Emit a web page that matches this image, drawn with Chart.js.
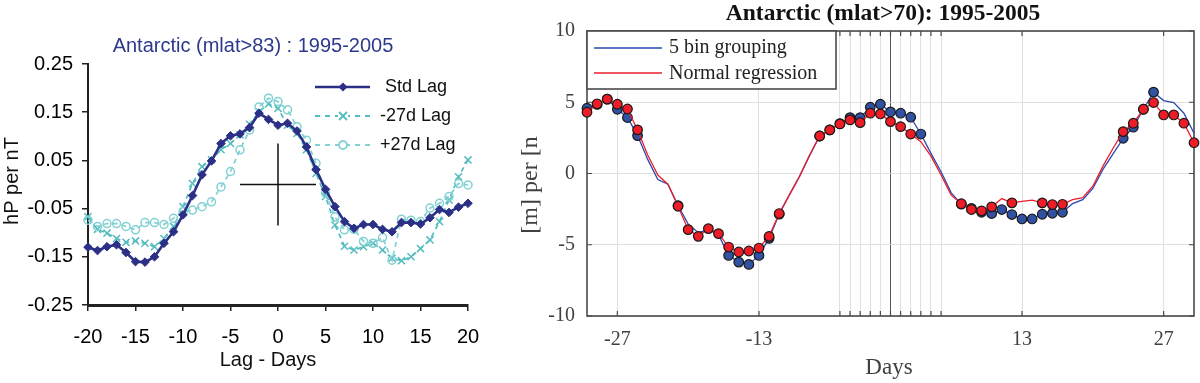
<!DOCTYPE html>
<html><head><meta charset="utf-8">
<script src="https://cdn.jsdelivr.net/npm/chart.js@4.4.0/dist/chart.umd.min.js"></script>
<style>
html,body{margin:0;padding:0;background:#fff;width:1200px;height:383px;overflow:hidden}
#c1{position:absolute;left:0;top:0}
#c2{position:absolute;left:520px;top:0}
</style></head><body>
<canvas id="c1" width="520" height="383"></canvas>
<canvas id="c2" width="680" height="383"></canvas>
<script>
// ---------- LEFT CHART DATA ----------
const leftTitle = 'Antarctic (mlat>83) : 1995-2005';
const leftXTitle = 'Lag - Days';
const leftYTitle = 'hP per nT';
const lagDays = [-20,-19,-18,-17,-16,-15,-14,-13,-12,-11,-10,-9,-8,-7,-6,-5,-4,-3,-2,-1,0,1,2,3,4,5,6,7,8,9,10,11,12,13,14,15,16,17,18,19,20];
const stdLag = [-0.130,-0.137,-0.129,-0.125,-0.141,-0.160,-0.161,-0.150,-0.122,-0.098,-0.063,-0.023,0.020,0.049,0.085,0.101,0.105,0.118,0.148,0.135,0.123,0.127,0.111,0.078,0.031,-0.010,-0.046,-0.077,-0.091,-0.083,-0.083,-0.093,-0.098,-0.079,-0.079,-0.082,-0.069,-0.052,-0.058,-0.047,-0.039];
const minus27Lag = [-0.067,-0.093,-0.101,-0.112,-0.120,-0.117,-0.122,-0.129,-0.112,-0.087,-0.046,0.002,0.037,0.051,0.072,0.085,0.103,0.125,0.151,0.167,0.158,0.123,0.106,0.072,0.023,-0.025,-0.084,-0.128,-0.136,-0.129,-0.122,-0.136,-0.153,-0.158,-0.150,-0.133,-0.115,-0.077,-0.032,0.016,0.051];
const plus27Lag = [-0.074,-0.087,-0.081,-0.081,-0.087,-0.094,-0.079,-0.079,-0.083,-0.070,-0.056,-0.053,-0.046,-0.036,-0.005,0.027,0.072,0.113,0.161,0.179,0.172,0.155,0.120,0.092,0.044,-0.018,-0.067,-0.094,-0.093,-0.118,-0.122,-0.110,-0.157,-0.072,-0.074,-0.077,-0.049,-0.039,-0.025,0.002,-0.001];
const crossHX = [-4, 4];
const crossVY = [0.085, -0.085];
const leftYTickValues = [-0.25,-0.15,-0.05,0.05,0.15,0.25];
const leftXTickValues = [-20,-15,-10,-5,0,5,10,15,20];
const leftLegend = ['Std Lag','-27d Lag','+27d Lag'];

// ---------- RIGHT CHART DATA ----------
const rightTitle = 'Antarctic (mlat>70): 1995-2005';
const rightXTitle = 'Days';
const rightYTitle = '[m] per [n';
const rightDays = [-30,-29,-28,-27,-26,-25,-24,-23,-22,-21,-20,-19,-18,-17,-16,-15,-14,-13,-12,-11,-10,-9,-8,-7,-6,-5,-4,-3,-2,-1,0,1,2,3,4,5,6,7,8,9,10,11,12,13,14,15,16,17,18,19,20,21,22,23,24,25,26,27,28,29,30];
const binGrouping = [4.58,4.85,5.22,4.51,3.93,2.66,0.99,-0.42,-0.75,-2.25,-3.55,-4.15,-3.95,-4.30,-5.75,-6.22,-6.38,-5.75,-4.55,-2.85,-1.50,-0.20,1.25,2.63,3.06,3.50,3.92,3.92,4.65,4.86,4.32,4.23,3.95,2.77,1.41,0.12,-1.36,-2.15,-2.45,-2.72,-2.81,-2.53,-2.88,-3.19,-3.19,-2.86,-2.79,-2.72,-2.11,-1.83,-1.05,0.29,1.37,2.47,3.25,4.51,5.71,5.12,4.98,4.23,2.82];
const normalRegression = [4.30,4.89,5.22,4.86,4.53,3.06,1.30,-0.11,-0.75,-2.30,-3.94,-4.41,-3.87,-4.22,-5.16,-5.51,-5.44,-5.23,-4.41,-2.81,-1.52,-0.23,1.30,2.63,3.06,3.48,3.76,3.57,4.23,4.18,3.64,3.29,2.77,2.23,1.22,-0.11,-1.52,-2.12,-2.53,-2.62,-2.34,-1.76,-2.06,-1.95,-1.87,-2.06,-2.18,-2.16,-1.83,-1.69,-0.89,0.52,1.77,2.94,3.53,4.51,4.98,4.11,4.11,3.53,2.16];
const binMarkerDays = [-30,-29,-28,-27,-26,-25,-21,-16,-15,-14,-13,-12,-11,-7,-6,-5,-4,-3,-2,-1,0,1,2,3,7,8,9,10,11,12,13,14,15,16,17,23,24,25,26];
const regMarkerDays = [-30,-29,-28,-27,-26,-25,-21,-20,-19,-18,-17,-16,-15,-14,-13,-12,-11,-7,-6,-5,-4,-3,-2,-1,0,1,2,7,8,9,10,12,15,16,17,23,24,25,26,27,28,29,30];
const rightXTickValues = [-27,-13,-5,-4,-3,-2,-1,0,1,2,3,4,5,13,27];
const rightXTickLabels = [-27,-13,13,27];
const rightYTickValues = [-10,-5,0,5,10];
const rightLegend = ['5 bin grouping','Normal regression'];

const pts = (xs, ys) => xs.map((x, i) => ({x: x, y: ys[i]}));

const SANS = '"Liberation Sans", Arial, sans-serif';
const SERIF = '"Liberation Serif", "Times New Roman", serif';

// ---------- LEFT CHART ----------
const navy = '#2b2f86';
const cyan1 = '#55bcc0';
const cyan2 = '#82d2d4';

const leftDecor = {
  id: 'leftDecor',
  afterDraw(chart) {
    const ctx = chart.ctx;
    ctx.save();
    ctx.textAlign = 'center';
    ctx.textBaseline = 'middle';
    ctx.font = '20px ' + SANS;
    ctx.fillStyle = '#2d3a8c';
    ctx.fillText(leftTitle, 253, 46);
    ctx.fillStyle = '#111';
    ctx.fillText(leftXTitle, 268, 360);
    ctx.save();
    ctx.translate(12, 181);
    ctx.rotate(-Math.PI / 2);
    ctx.fillText(leftYTitle, 0, 0);
    ctx.restore();
    // legend
    const ys = [87, 116, 145];
    const x0 = 315, x1 = 370, xm = 343;
    ctx.font = '18px ' + SANS;
    ctx.textAlign = 'left';
    // Std Lag
    ctx.strokeStyle = navy; ctx.lineWidth = 2.5; ctx.setLineDash([]);
    ctx.beginPath(); ctx.moveTo(x0, ys[0]); ctx.lineTo(x1, ys[0]); ctx.stroke();
    ctx.fillStyle = navy;
    ctx.beginPath(); ctx.moveTo(xm, ys[0]-4.5); ctx.lineTo(xm+4.5, ys[0]); ctx.lineTo(xm, ys[0]+4.5); ctx.lineTo(xm-4.5, ys[0]); ctx.closePath(); ctx.fill();
    // -27d
    ctx.strokeStyle = cyan1; ctx.lineWidth = 1.8; ctx.setLineDash([5, 5]);
    ctx.beginPath(); ctx.moveTo(x0, ys[1]); ctx.lineTo(x1, ys[1]); ctx.stroke();
    ctx.setLineDash([]);
    ctx.fillStyle = '#fff'; ctx.fillRect(xm-5, ys[1]-5, 10, 10);
    ctx.beginPath(); ctx.moveTo(xm-4, ys[1]-4); ctx.lineTo(xm+4, ys[1]+4); ctx.moveTo(xm+4, ys[1]-4); ctx.lineTo(xm-4, ys[1]+4); ctx.stroke();
    // +27d
    ctx.strokeStyle = cyan2; ctx.setLineDash([5, 5]);
    ctx.beginPath(); ctx.moveTo(x0, ys[2]); ctx.lineTo(x1, ys[2]); ctx.stroke();
    ctx.setLineDash([]);
    ctx.fillStyle = '#fff';
    ctx.beginPath(); ctx.arc(xm, ys[2], 4, 0, Math.PI*2); ctx.fill(); ctx.stroke();
    ctx.fillStyle = '#111';
    ctx.fillText(leftLegend[0], 385, ys[0]);
    ctx.fillText(leftLegend[1], 380, ys[1]);
    ctx.fillText(leftLegend[2], 380, ys[2]);
    ctx.restore();
  }
};

new Chart(document.getElementById('c1'), {
  type: 'line',
  data: {
    datasets: [
      {label: leftLegend[0], data: pts(lagDays, stdLag), borderColor: navy, backgroundColor: navy, borderWidth: 2.6,
       pointStyle: 'rectRot', pointRadius: 4.3, pointBorderWidth: 1, pointBorderColor: navy, pointBackgroundColor: navy, tension: 0, order: 1, clip: false},
      {label: leftLegend[1], data: pts(lagDays, minus27Lag), borderColor: cyan1, borderWidth: 1.7, borderDash: [5, 4],
       pointStyle: 'crossRot', pointRadius: 5, pointBorderWidth: 1.5, pointBorderColor: cyan1, tension: 0, order: 3, clip: false},
      {label: leftLegend[2], data: pts(lagDays, plus27Lag), borderColor: cyan2, borderWidth: 1.7, borderDash: [5, 4],
       pointStyle: 'circle', pointRadius: 4, pointBorderWidth: 1.5, pointBorderColor: cyan2, pointBackgroundColor: 'rgba(255,255,255,0)', tension: 0, order: 2, clip: false},
      {label: 'crossH', data: crossHX.map(x => ({x: x, y: 0})), borderColor: '#111', borderWidth: 1.5, pointRadius: 0, order: 0},
      {label: 'crossV', data: crossVY.map(y => ({x: 0, y: y})), borderColor: '#111', borderWidth: 1.5, pointRadius: 0, order: 0}
    ]
  },
  options: {
    responsive: false, animation: false, events: [],
    layout: {padding: {left: 0, top: 64, right: 52, bottom: 0}},
    plugins: {legend: {display: false}, tooltip: {enabled: false}, title: {display: false}},
    scales: {
      x: {
        type: 'linear', min: -20, max: 20,
        afterBuildTicks: s => { s.ticks = leftXTickValues.map(v => ({value: v})); },
        ticks: {font: {family: SANS, size: 20}, color: '#000', padding: 14, maxRotation: 0, autoSkip: false},
        grid: {drawOnChartArea: false, drawTicks: true, tickLength: 6, color: '#222', lineWidth: 1.5},
        border: {color: '#222', width: 3},
        afterFit: s => { s.height = 78; }
      },
      y: {
        type: 'linear', min: -0.25, max: 0.25,
        afterBuildTicks: s => { s.ticks = leftYTickValues.map(v => ({value: v})); },
        ticks: {font: {family: SANS, size: 20}, color: '#000', padding: 9, callback: v => Number(v).toFixed(2)},
        grid: {drawOnChartArea: false, drawTicks: true, tickLength: 6, color: '#222', lineWidth: 1.5},
        border: {color: '#222', width: 2},
        afterFit: s => { s.width = 88; }
      }
    }
  },
  plugins: [leftDecor]
});

// ---------- RIGHT CHART ----------
const blueLine = '#2a48b0';
const blueFill = '#3151a3';
const redLine = '#ec1f2b';
const redFill = '#ee1c26';
const frame = '#4a4a4a';

const rightBox = {
  id: 'rightBox',
  beforeDatasetsDraw(chart) {
    const {ctx, chartArea: a, scales} = chart;
    ctx.save();
    ctx.strokeStyle = frame; ctx.lineWidth = 1.6;
    ctx.strokeRect(a.left, a.top, a.right - a.left, a.bottom - a.top);
    ctx.lineWidth = 1.2;
    ctx.beginPath();
    rightXTickValues.forEach(v => {
      const x = scales.x.getPixelForValue(v);
      ctx.moveTo(x, a.bottom); ctx.lineTo(x, a.bottom - 5);
      ctx.moveTo(x, a.top); ctx.lineTo(x, a.top + 5);
    });
    rightYTickValues.forEach(v => {
      const y = scales.y.getPixelForValue(v);
      ctx.moveTo(a.left, y); ctx.lineTo(a.left + 5, y);
      ctx.moveTo(a.right, y); ctx.lineTo(a.right - 5, y);
    });
    ctx.stroke();
    ctx.restore();
  },
  afterDatasetsDraw(chart) {
    const {ctx, chartArea: a} = chart;
    ctx.save();
    const lx = a.left, ly = a.top, lw = 249, lh = 58;
    ctx.fillStyle = '#fff';
    ctx.fillRect(lx, ly, lw, lh);
    ctx.strokeStyle = frame; ctx.lineWidth = 1.6;
    ctx.strokeRect(lx, ly, lw, lh);
    ctx.lineWidth = 1.5;
    ctx.strokeStyle = blueLine;
    ctx.beginPath(); ctx.moveTo(lx + 7, 48); ctx.lineTo(lx + 75, 48); ctx.stroke();
    ctx.strokeStyle = redLine;
    ctx.beginPath(); ctx.moveTo(lx + 7, 73); ctx.lineTo(lx + 75, 73); ctx.stroke();
    ctx.fillStyle = '#222';
    ctx.font = '20px ' + SERIF;
    ctx.textAlign = 'left'; ctx.textBaseline = 'middle';
    ctx.fillText(rightLegend[0], lx + 82, 48);
    ctx.fillText(rightLegend[1], lx + 82, 74);
    ctx.restore();
  },
  afterDraw(chart) {
    const ctx = chart.ctx;
    ctx.save();
    ctx.textAlign = 'center'; ctx.textBaseline = 'middle';
    ctx.fillStyle = '#111';
    ctx.font = 'bold 23.5px ' + SERIF;
    ctx.fillText(rightTitle, 363, 14);
    ctx.fillStyle = '#404040';
    ctx.font = '23px ' + SERIF;
    ctx.fillText(rightXTitle, 369, 368);
    ctx.font = '24px ' + SERIF;
    ctx.save();
    ctx.translate(11, 185);
    ctx.rotate(-Math.PI / 2);
    ctx.fillText(rightYTitle, 0, 0);
    ctx.restore();
    ctx.restore();
  }
};

new Chart(document.getElementById('c2'), {
  type: 'line',
  data: {
    datasets: [
      {label: rightLegend[0], data: pts(rightDays, binGrouping), borderColor: blueLine, borderWidth: 1.3, tension: 0,
       pointRadius: c => binMarkerDays.includes(rightDays[c.dataIndex]) ? 4.8 : 0,
       pointBackgroundColor: blueFill, pointBorderColor: '#1a1a1a', pointBorderWidth: 1.2, order: 2, clip: false},
      {label: rightLegend[1], data: pts(rightDays, normalRegression), borderColor: redLine, borderWidth: 1.3, tension: 0,
       pointRadius: c => regMarkerDays.includes(rightDays[c.dataIndex]) ? 4.8 : 0,
       pointBackgroundColor: redFill, pointBorderColor: '#1a1a1a', pointBorderWidth: 1.2, order: 1, clip: false}
    ]
  },
  options: {
    responsive: false, animation: false, events: [],
    layout: {padding: {left: 0, top: 31, right: 5, bottom: 0}},
    plugins: {legend: {display: false}, tooltip: {enabled: false}, title: {display: false}},
    scales: {
      x: {
        type: 'linear', min: -30, max: 30,
        afterBuildTicks: s => { s.ticks = rightXTickValues.map(v => ({value: v})); },
        ticks: {font: {family: SERIF, size: 20}, color: '#404040', padding: 12, maxRotation: 0, autoSkip: false,
                callback: v => rightXTickLabels.includes(v) ? String(v) : ''},
        grid: {drawTicks: false, lineWidth: 1, color: c => (c.tick && c.tick.value === 0) ? '#555' : '#e0e0e0'},
        border: {display: false},
        afterFit: s => { s.height = 67; }
      },
      y: {
        type: 'linear', min: -10, max: 10,
        afterBuildTicks: s => { s.ticks = rightYTickValues.map(v => ({value: v})); },
        ticks: {font: {family: SERIF, size: 20}, color: '#404040', padding: 12},
        grid: {drawTicks: false, lineWidth: 1, color: '#e0e0e0'},
        border: {display: false},
        afterFit: s => { s.width = 67; }
      }
    }
  },
  plugins: [rightBox]
});
</script>
</body></html>
